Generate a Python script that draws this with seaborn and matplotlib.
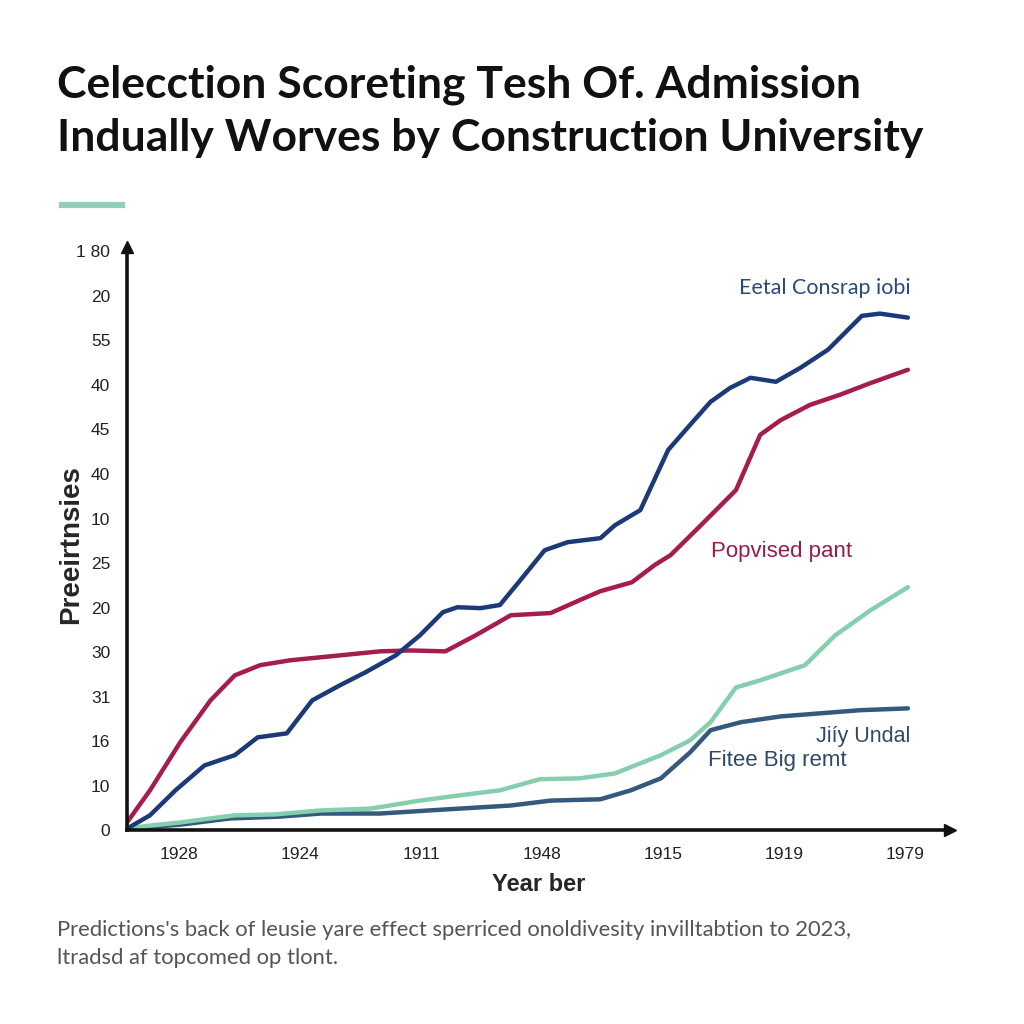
import pandas as pd
import numpy as np
import matplotlib.pyplot as plt
import seaborn as sns
from matplotlib.lines import Line2D

# datos (x = posicion de tick, y = posicion de tick)
navy_x = [-0.43, -0.24, -0.03, 0.21, 0.46, 0.65, 0.89, 1.10, 1.33, 1.54, 1.79, 1.99,
          2.18, 2.30, 2.49, 2.65, 2.82, 3.02, 3.21, 3.48, 3.60, 3.81, 4.04, 4.22,
          4.39, 4.55, 4.72, 4.93, 5.13, 5.36, 5.64, 5.79, 6.02]
navy_y = [0.04, 0.34, 0.90, 1.46, 1.69, 2.09, 2.18, 2.92, 3.26, 3.55, 3.93, 4.38,
          4.90, 5.01, 4.99, 5.06, 5.62, 6.29, 6.47, 6.56, 6.85, 7.19, 8.54, 9.10,
          9.62, 9.93, 10.16, 10.07, 10.38, 10.79, 11.55, 11.60, 11.51]

crimson_x = [-0.43, -0.24, 0.01, 0.26, 0.46, 0.67, 0.92, 1.33, 1.66, 1.91, 2.20,
             2.45, 2.74, 3.07, 3.31, 3.48, 3.74, 3.93, 4.06, 4.31, 4.60, 4.80,
             4.97, 5.21, 5.46, 5.71, 6.02]
crimson_y = [0.18, 0.90, 1.98, 2.92, 3.48, 3.71, 3.82, 3.93, 4.02, 4.04, 4.02,
             4.38, 4.83, 4.88, 5.17, 5.37, 5.57, 5.96, 6.18, 6.85, 7.64, 8.88,
             9.21, 9.55, 9.78, 10.04, 10.34]

green_x = [-0.43, -0.24, 0.01, 0.26, 0.46, 0.79, 1.17, 1.58, 1.99, 2.32, 2.65,
           2.98, 3.31, 3.60, 3.98, 4.22, 4.39, 4.60, 4.80, 5.17, 5.42, 5.71, 6.02]
green_y = [0.04, 0.11, 0.18, 0.27, 0.34, 0.36, 0.45, 0.49, 0.67, 0.79, 0.90,
           1.15, 1.17, 1.28, 1.69, 2.02, 2.43, 3.21, 3.37, 3.71, 4.38, 4.94, 5.46]

slate_x = [-0.43, 0.01, 0.42, 0.83, 1.17, 1.66, 2.07, 2.74, 3.07, 3.48, 3.73,
           3.98, 4.22, 4.39, 4.64, 4.97, 5.30, 5.63, 6.02]
slate_y = [0.04, 0.13, 0.27, 0.31, 0.38, 0.38, 0.45, 0.56, 0.67, 0.70, 0.90,
           1.17, 1.75, 2.25, 2.43, 2.56, 2.63, 2.70, 2.74]

x_labels = ["1928", "1924", "1911", "1948", "1915", "1919", "1979"]
y_labels = ["0", "10", "16", "31", "30", "20", "25", "10", "40", "45", "40", "55", "20", "1 80"]

colores = {
    "navy": "#1d3a78",
    "crimson": "#a51c4f",
    "green": "#86cfae",
    "slate": "#33597c",
}

df = pd.concat([
    pd.DataFrame({"x": navy_x, "y": navy_y, "serie": "navy"}),
    pd.DataFrame({"x": crimson_x, "y": crimson_y, "serie": "crimson"}),
    pd.DataFrame({"x": green_x, "y": green_y, "serie": "green"}),
    pd.DataFrame({"x": slate_x, "y": slate_y, "serie": "slate"}),
], ignore_index=True)

sns.set_style("white")
plt.rcParams["font.family"] = ["Liberation Sans", "DejaVu Sans"]

fig = plt.figure(figsize=(10.24, 10.24), dpi=100)
ax = fig.add_axes([0.124, 0.189, 0.804, 0.570])

sns.lineplot(
    data=df,
    x="x",
    y="y",
    hue="serie",
    hue_order=["slate", "green", "crimson", "navy"],
    palette=colores,
    sort=False,
    estimator=None,
    linewidth=3.2,
    legend=False,
    ax=ax
)

ax.set_xlim(-0.43, 6.37)
ax.set_ylim(0, 13.1)

ax.set_xticks(range(len(x_labels)))
ax.set_xticklabels(x_labels, fontsize=12.5)
ax.set_yticks(range(len(y_labels)))
ax.set_yticklabels(y_labels, fontsize=12.5)
ax.tick_params(axis="both", direction="out", length=6, width=1.5, color="#111111",
               labelcolor="#222222", pad=6)

for s in ["top", "right"]:
    ax.spines[s].set_visible(False)
for s in ["left", "bottom"]:
    ax.spines[s].set_linewidth(2.6)
    ax.spines[s].set_color("#111111")

# puntas de flecha
ax.plot(1, 0, ">", color="#111111", markersize=9, transform=ax.transAxes, clip_on=False)
ax.plot(0, 1, "^", color="#111111", markersize=9, transform=ax.transAxes, clip_on=False)

ax.set_xlabel("Year ber", fontsize=17, fontweight="bold", labelpad=8)
ax.set_ylabel("Preeirtnsies", fontsize=20, fontweight="bold")
ax.yaxis.set_label_coords(-0.052, 0.49)

# etiquetas en el grafico
ax.text(6.04, 12.18, "Eetal Consrap iobi", color="#2a4a7a", fontsize=15.5,
        ha="right", va="center", family="Lato")
ax.text(4.39, 6.25, "Popvised pant", color="#9b1b4b", fontsize=16,
        ha="left", va="center", family="Liberation Sans")
ax.text(6.04, 2.11, "Jiíy Undal", color="#2e4a66", fontsize=15.5,
        ha="right", va="center", family="Liberation Sans")
ax.text(4.37, 1.57, "Fitee Big remt", color="#2e4a66", fontsize=16,
        ha="left", va="center", family="Liberation Sans")

# titulo
fig.text(0.056, 0.937, "Celecction Scoreting Tesh Of. Admission\nIndually Worves by Construction University",
         fontsize=32, fontweight="bold", family="Lato", color="#111111",
         ha="left", va="top", linespacing=1.4)

fig.add_artist(Line2D([0.058, 0.122], [0.8, 0.8], color="#8fd0b6", linewidth=4.5,
                      solid_capstyle="butt", transform=fig.transFigure))

fig.text(0.056, 0.078,
         "Predictions's back of leusie yare effect sperriced onoldivesity invilltabtion to 2023,\nltradsd af topcomed op tlont.",
         fontsize=15.8, family="Lato", color="#555555", ha="left", va="center", linespacing=1.5)

fig.savefig("out.png", dpi=100, facecolor="white")
